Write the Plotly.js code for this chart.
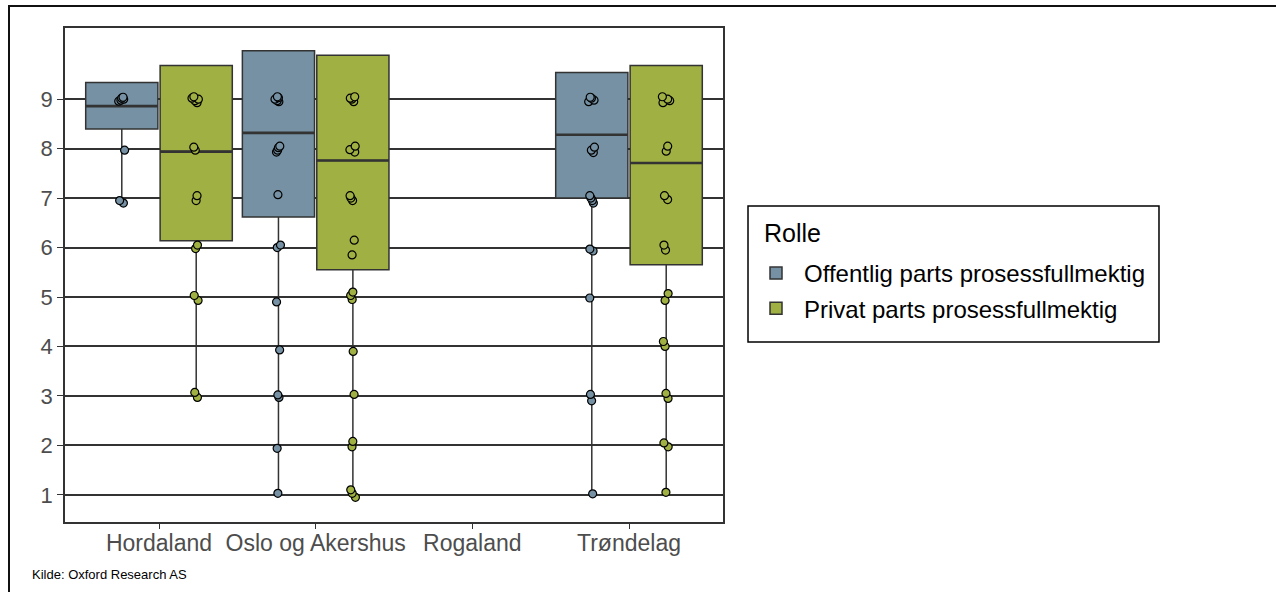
<!DOCTYPE html>
<html>
<head>
<meta charset="utf-8">
<script src="https://cdn.plot.ly/plotly-3.0.1.min.js"></script>
<style>
  body { margin: 0; background: #fff; }
  #frame { position: absolute; left: 8px; top: 5px; width: 1266px; height: 600px;
           border-left: 2px solid #111; border-top: 2px solid #111; border-right: 2px solid #111; }
  #chart { position: absolute; left: 0; top: 0; width: 1276px; height: 592px; }
</style>
</head>
<body>
<div id="chart"></div>
<div id="frame"></div>
<script>
let regions = ['Hordaland', 'Oslo og Akershus', 'Rogaland', 'Trøndelag'];
let box_regions = ['Hordaland', 'Oslo og Akershus', 'Trøndelag'];

// box statistics (Rogaland has no data)
let off_q1 = [8.40, 6.62, 7.00];
let off_median = [8.86, 8.32, 8.28];
let off_q3 = [9.34, 9.98, 9.54];
let off_low = [6.93, 1.02, 1.02];

let priv_q1 = [6.14, 5.55, 5.65];
let priv_median = [7.94, 7.76, 7.71];
let priv_q3 = [9.68, 9.89, 9.68];
let priv_low = [2.99, 0.95, 1.03];

// individual answers (jittered in the original)
let off_hordaland = [9.04, 8.98, 9.02, 8.96, 9.0, 7.97, 6.95, 6.9];
let off_oslo = [9.03, 8.97, 9.0, 8.95, 9.05, 8.02, 7.97, 7.93, 8.05, 7.07, 6.05, 6.0, 4.9, 3.93, 3.02, 2.97, 1.94, 1.03];
let off_trondelag = [9.02, 8.98, 8.95, 9.04, 8.03, 7.97, 7.92, 7.05, 7.0, 6.95, 6.9, 5.97, 5.93, 4.98, 3.03, 2.9, 1.02];

let priv_hordaland = [9.05, 9.0, 8.97, 8.93, 9.02, 8.03, 7.97, 7.05, 6.95, 6.05, 5.98, 5.03, 4.93, 3.07, 2.97];
let priv_oslo = [9.05, 9.0, 8.95, 9.02, 8.05, 7.98, 7.93, 7.05, 7.0, 6.95, 6.15, 5.85, 5.1, 5.03, 4.95, 3.9, 3.03, 2.08, 1.97, 1.1, 1.03, 0.95];
let priv_trondelag = [9.05, 9.0, 8.93, 8.97, 8.05, 7.95, 7.05, 6.97, 6.05, 5.95, 5.07, 4.93, 4.1, 4.0, 3.05, 2.95, 2.05, 1.97, 1.05];

let blue = '#7591a3';
let green = '#a0b042';
let dark = '#333333';

function points_x(groups){
    var xs = [];
    groups.forEach(function(g){
        g.vals.forEach(function(){ xs.push(g.name); });
    });
    return xs;
}

var off_groups = [
    {name: 'Hordaland', vals: off_hordaland},
    {name: 'Oslo og Akershus', vals: off_oslo},
    {name: 'Trøndelag', vals: off_trondelag}
];
var priv_groups = [
    {name: 'Hordaland', vals: priv_hordaland},
    {name: 'Oslo og Akershus', vals: priv_oslo},
    {name: 'Trøndelag', vals: priv_trondelag}
];

function stat_box(name, group, color, q1, med, q3, low){
    return {
        type: 'box',
        name: name,
        legendgroup: group,
        x: box_regions,
        q1: q1,
        median: med,
        q3: q3,
        lowerfence: low,
        upperfence: q3,
        boxpoints: false,
        whiskerwidth: 0,
        fillcolor: color,
        line: {color: dark, width: 1.5},
        offsetgroup: group,
        hoverinfo: 'skip'
    };
}

// flat box at the median, drawn thick like ggplot's median bar
function median_bar(group, med){
    return {
        type: 'box',
        x: box_regions,
        q1: med,
        median: med,
        q3: med,
        lowerfence: med,
        upperfence: med,
        boxpoints: false,
        whiskerwidth: 0,
        fillcolor: dark,
        line: {color: dark, width: 2.6},
        offsetgroup: group,
        showlegend: false,
        hoverinfo: 'skip'
    };
}

// invisible box used only to draw the jittered points
function point_box(group, color, groups){
    return {
        type: 'box',
        x: points_x(groups),
        y: [].concat.apply([], groups.map(function(g){ return g.vals; })),
        boxpoints: 'all',
        jitter: 0.12,
        pointpos: 0,
        fillcolor: 'rgba(0,0,0,0)',
        line: {color: 'rgba(0,0,0,0)', width: 0},
        marker: {color: color, size: 8, line: {color: '#000', width: 1.2}},
        offsetgroup: group,
        showlegend: false,
        hoverinfo: 'skip'
    };
}

var data = [
    stat_box('Offentlig parts prosessfullmektig', 'off', blue, off_q1, off_median, off_q3, off_low),
    stat_box('Privat parts prosessfullmektig', 'priv', green, priv_q1, priv_median, priv_q3, priv_low),
    median_bar('off', off_median),
    median_bar('priv', priv_median),
    point_box('off', blue, off_groups),
    point_box('priv', green, priv_groups)
];

var layout = {
    width: 1276,
    height: 592,
    margin: {l: 65, r: 553, t: 28, b: 70},
    paper_bgcolor: 'rgba(0,0,0,0)',
    plot_bgcolor: '#fff',
    font: {family: 'Liberation Sans, Arial, sans-serif', color: '#000'},
    boxmode: 'group',
    boxgap: 0.05,
    boxgroupgap: 0.03,
    xaxis: {
        type: 'category',
        categoryorder: 'array',
        categoryarray: regions,
        range: [-0.6, 3.6],
        showline: true,
        mirror: true,
        linecolor: dark,
        linewidth: 1.5,
        ticks: 'outside',
        ticklen: 5,
        tickcolor: dark,
        ticklabelstandoff: -5,
        showgrid: false,
        zeroline: false,
        tickfont: {size: 23, color: '#4d4d4d'}
    },
    yaxis: {
        range: [0.45, 10.44],
        tickvals: [1, 2, 3, 4, 5, 6, 7, 8, 9],
        showline: true,
        mirror: true,
        linecolor: dark,
        linewidth: 1.5,
        ticks: 'outside',
        ticklen: 6,
        tickcolor: dark,
        showgrid: true,
        gridcolor: dark,
        gridwidth: 1.5,
        zeroline: false,
        tickfont: {size: 22, color: '#4d4d4d'}
    },
    showlegend: true,
    legend: {
        x: 1.038,
        xanchor: 'left',
        y: 0.5486,
        yanchor: 'top',
        bgcolor: 'rgba(0,0,0,0)',
        borderwidth: 0,
        itemwidth: 46,
        traceorder: 'grouped',
        tracegroupgap: 1,
        font: {size: 24, color: '#000'}
    },
    shapes: [
        // legend frame
        {type: 'rect', xref: 'paper', yref: 'paper',
         x0: 1.038, x1: 1.6626, y0: 0.3644, y1: 0.6397,
         line: {color: '#000', width: 1.5}}
    ],
    annotations: [
        {
            text: 'Rolle',
            xref: 'paper', yref: 'paper',
            x: 1.0593, y: 0.585,
            xanchor: 'left', yanchor: 'middle',
            showarrow: false,
            font: {size: 25, color: '#000'}
        },
        {
            text: 'Kilde: Oxford Research AS',
            xref: 'paper', yref: 'paper',
            x: -0.053, y: -0.107,
            xanchor: 'left', yanchor: 'middle',
            showarrow: false,
            font: {family: 'Liberation Sans, Arial, sans-serif', size: 13, color: '#000'}
        }
    ]
};

Plotly.newPlot('chart', data, layout, {displayModeBar: false});
</script>
</body>
</html>
